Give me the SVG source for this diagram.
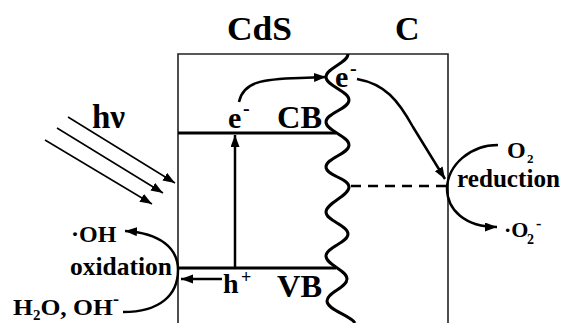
<svg xmlns="http://www.w3.org/2000/svg" width="563" height="323" viewBox="0 0 563 323">
<style>
text{font-family:"Liberation Serif","Times New Roman","DejaVu Serif",serif;font-weight:bold;fill:#000}
.box{fill:none;stroke:#222;stroke-width:1.6}
.band{stroke:#000;stroke-width:3;fill:none}
.ar{stroke:#000;stroke-width:2.5;fill:none;marker-end:url(#ah)}
.thin{stroke:#000;stroke-width:1.5;fill:none;marker-end:url(#ah)}
</style>
<defs>
<marker id="ah" markerUnits="userSpaceOnUse" markerWidth="13" markerHeight="10" refX="12" refY="4.5" orient="auto">
<path d="M0,0 L12,4.5 L0,9 z" fill="#000"/>
</marker>
</defs>
<g font-family="Liberation Serif, Times New Roman, DejaVu Serif, serif">
<g id="labels">
<text x="227" y="40" font-size="34" textLength="65" lengthAdjust="spacingAndGlyphs">CdS</text>
<text x="395" y="40" font-size="34">C</text>
</g>
<g id="box">
<path class="box" d="M178,323 L178,54 L448,54 L448,323"/>
</g>
<g id="CB">
<line class="band" x1="178" y1="133" x2="336" y2="133"/>
<text x="277" y="128" font-size="32" textLength="45" lengthAdjust="spacingAndGlyphs">CB</text>
</g>
<g id="VB">
<line class="band" x1="178" y1="268" x2="336" y2="268"/>
<text x="277" y="297" font-size="32" textLength="45" lengthAdjust="spacingAndGlyphs">VB</text>
</g>
<g id="interface">
<path class="band" d="M348,54 C348,63 326,68 326,77 C326,86 349,91 349,100 C349,109 326,113 326,122 C326,131 349,136 349,145 C349,154 326,158 326,167 C326,176 349,178 349,187 C349,196 326,203 326,212 C326,221 348,225 348,234 C348,243 326,247 326,256 C326,265 347,270 347,279 C347,288 327,292 327,301 C327,310 350,315 355,323"/>
</g>
<g id="light">
<text x="92" y="128" font-size="33">hν</text>
</g>
<g id="e-CB">
<text x="228" y="128" font-size="30">e</text>
<text x="243" y="115" font-size="20">-</text>
</g>
<g id="e-C">
<text x="335" y="87" font-size="30">e</text>
<text x="350" y="75" font-size="20">-</text>
</g>
<g id="hole">
<text x="223" y="293" font-size="28">h</text>
<text x="241" y="283" font-size="18" font-weight="normal">+</text>
</g>
<g id="oxidation">
<text x="71" y="242" font-size="24">·OH</text>
<text x="70" y="275" font-size="25" textLength="102" lengthAdjust="spacingAndGlyphs">oxidation</text>
<text x="13" y="315" font-size="24" textLength="100" lengthAdjust="spacingAndGlyphs">H<tspan font-size="14" dy="5">2</tspan><tspan dy="-5">O, OH</tspan></text>
<text x="113" y="305" font-size="18">-</text>
</g>
<g id="reduction">
<text x="507" y="158" font-size="24">O</text>
<text x="527" y="163" font-size="13">2</text>
<text x="457" y="187" font-size="25" textLength="103" lengthAdjust="spacingAndGlyphs">reduction</text>
<text x="504" y="237" font-size="22">·O</text>
<text x="527" y="244" font-size="14">2</text>
<text x="536" y="229" font-size="16">-</text>
</g>
</g>
<g id="connectors">
<line class="thin" x1="68" y1="117" x2="175" y2="183"/>
<line class="thin" x1="57" y1="128" x2="163" y2="193"/>
<line class="thin" x1="45" y1="140" x2="152" y2="204"/>
<line class="ar" x1="235" y1="268" x2="235" y2="135"/>
<line class="ar" x1="222" y1="279" x2="181" y2="279"/>
<path class="ar" d="M239,102 C243,82 262,79 300,78 L326,77"/>
<path class="ar" d="M357,79 C385,84 398,100 413,127 L445,179"/>
<line x1="351" y1="186" x2="446" y2="186" stroke="#000" stroke-width="2.5" stroke-dasharray="10,7"/>
<path class="ar" d="M498,145 C470,145 448,165 447,188 C447,210 465,227 497,227"/>
<path class="ar" d="M123,312 C160,312 178,295 178,270 C178,248 160,233 125,231"/>
</g>
</svg>
